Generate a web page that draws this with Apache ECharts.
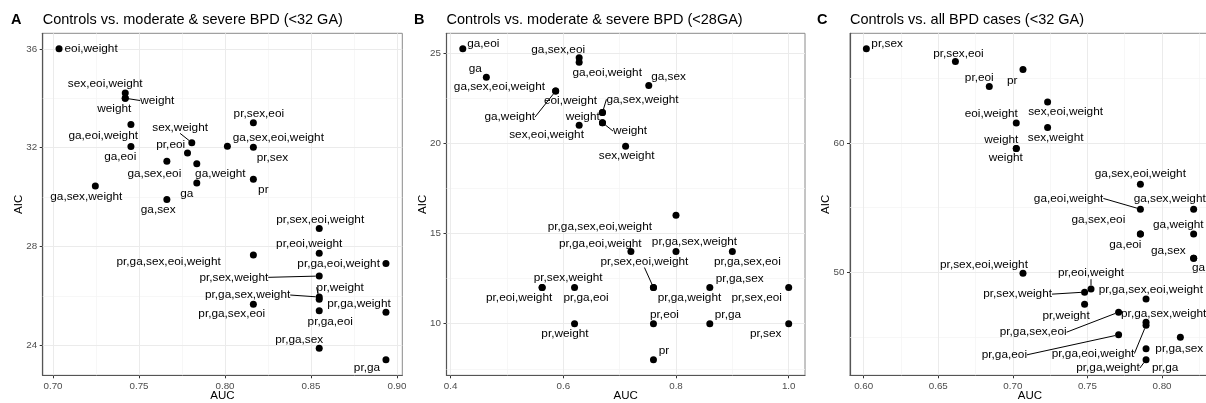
<!DOCTYPE html>
<html><head><meta charset="utf-8">
<script src="https://cdn.jsdelivr.net/npm/echarts/dist/echarts.min.js"></script>
<style>html,body{margin:0;padding:0;background:#fff}#c{width:1206px;height:403px}</style>
</head><body><div id="c"></div>
<script>
// ---------- DATA ----------
const titleA = 'Controls vs. moderate & severe BPD (<32 GA)';
const titleB = 'Controls vs. moderate & severe BPD (<28GA)';
const titleC = 'Controls vs. all BPD cases (<32 GA)';

const modelsA = ['eoi,weight','sex,eoi,weight','weight','weight','ga,eoi,weight','ga,eoi','sex,weight','pr,eoi','ga,sex,eoi','ga,weight','ga','ga,sex,weight','ga,sex','pr,sex,eoi','ga,sex,eoi,weight','pr,sex','pr','pr,sex,eoi,weight','pr,eoi,weight','pr,ga,sex,eoi,weight','pr,ga,eoi,weight','pr,sex,weight','pr,weight','pr,ga,sex,weight','pr,ga,sex,eoi','pr,ga,eoi','pr,ga,weight','pr,ga,sex','pr,ga'];
const aucA = [0.7035,0.742,0.742,0.742,0.7453,0.7453,0.7807,0.7782,0.7662,0.7836,0.7836,0.7246,0.7662,0.8165,0.8014,0.8165,0.8165,0.8548,0.8548,0.8165,0.8936,0.8548,0.8548,0.8548,0.8165,0.8548,0.8936,0.8548,0.8936];
const aicA = [36.00,34.21,34.00,34.00,32.94,32.05,32.20,31.78,31.45,31.35,30.57,30.45,29.90,33.01,32.06,32.02,30.72,28.73,27.72,27.65,27.31,26.80,25.86,25.95,25.66,25.39,25.33,23.88,23.41];

const modelsB = ['ga,eoi','ga','ga,sex,eoi','ga,eoi,weight','ga,sex,eoi,weight','ga,weight','eoi,weight','ga,sex,weight','weight','weight','sex,eoi,weight','ga,sex','sex,weight','pr,ga,sex,eoi,weight','pr,ga,eoi,weight','pr,ga,sex,weight','pr,ga,sex,eoi','pr,sex,eoi,weight','pr,ga,weight','pr,eoi,weight','pr,ga,eoi','pr,sex,weight','pr,ga,sex','pr,sex,eoi','pr,weight','pr,eoi','pr,ga','pr,sex','pr'];
const aucB = [0.4217,0.4635,0.6282,0.6282,0.5865,0.5865,0.6695,0.6695,0.6695,0.6695,0.6282,0.7517,0.7106,0.80,0.72,0.80,0.90,0.76,0.76,0.5625,0.62,0.5625,0.86,1.00,0.62,0.76,0.86,1.00,0.76];
const aicB = [25.22,23.65,24.72,24.48,22.88,22.88,21.69,21.69,21.13,21.13,20.99,23.19,19.83,16,14,14,14,12,12,12,12,12,12,12,10,10,10,10,8];

const modelsC = ['pr,sex','pr,sex,eoi','pr,eoi','pr','sex,eoi,weight','eoi,weight','sex,weight','weight','weight','ga,sex,eoi,weight','ga,eoi,weight','ga,sex,weight','ga,sex,eoi','ga,eoi','ga,weight','ga,sex','ga','pr,sex,eoi,weight','pr,eoi,weight','pr,sex,weight','pr,ga,sex,eoi,weight','pr,weight','pr,ga,sex,eoi','pr,ga,sex,weight','pr,ga,eoi,weight','pr,ga,eoi','pr,ga,sex','pr,ga','pr,ga,weight'];
const aucC = [0.6018,0.6615,0.6842,0.7068,0.7233,0.7023,0.7233,0.7023,0.7023,0.7855,0.7855,0.8212,0.7855,0.7855,0.8212,0.8212,0.8212,0.7068,0.7524,0.7481,0.7893,0.7481,0.7709,0.7893,0.7893,0.7709,0.8123,0.7893,0.7893];
const aicC = [67.28,66.30,64.37,65.69,63.16,61.54,61.19,59.57,59.57,56.81,54.88,54.88,52.96,52.96,52.96,51.08,51.08,49.92,48.71,48.46,47.92,47.53,46.91,46.14,45.90,45.16,44.98,44.08,43.23];

// tick values / labels and grid breaks
const xTicksA = [0.70,0.75,0.80,0.85,0.90], xLabelsA = ['0.70','0.75','0.80','0.85','0.90'];
const yTicksA = [24,28,32,36], yLabelsA = ['24','28','32','36'];
const xMinorA = [0.725,0.775,0.825,0.875], yMinorA = [26,30,34];
const xTicksB = [0.4,0.6,0.8,1.0], xLabelsB = ['0.4','0.6','0.8','1.0'];
const yTicksB = [10,15,20,25], yLabelsB = ['10','15','20','25'];
const xMinorB = [0.5,0.7,0.9], yMinorB = [7.5,12.5,17.5,22.5];
const xTicksC = [0.60,0.65,0.70,0.75,0.80], xLabelsC = ['0.60','0.65','0.70','0.75','0.80'];
const yTicksC = [50,60], yLabelsC = ['50','60'];
const xMinorC = [0.625,0.675,0.725,0.775,0.825], yMinorC = [45,55,65];

// ---------- LABEL PLACEMENT (pixel offsets from point: dx, dy, align, connector) ----------
const placeA = [[5.5,0,'left'],[-20,-9.4,'center'],[15,2.3,'left',1],[-11,10.6,'center'],[-27.7,11,'center'],[-10.7,10,'center'],[-11.7,-15.3,'center',1],[-16.8,-8.7,'center'],[-12.5,12.3,'center'],[-1.7,10,'left'],[-10,10.6,'center'],[-9,11,'center'],[-8.7,10.7,'center'],[5.5,-9,'center'],[5.4,-8.4,'left'],[19,10.6,'center'],[10,11,'center'],[1,-9,'center'],[-10,-9.3,'center'],[-32.6,6.7,'right'],[-6,0.7,'right'],[-51,1.3,'right',1],[21,-12,'center',1],[-29,-2,'right',1],[-21.6,10,'center'],[11,11.3,'center'],[-27,-9,'center'],[-20,-8.3,'center'],[-19,8.3,'center']];
const placeB = [[4.4,-5.6,'left'],[-11,-8.4,'center'],[-21,-8,'center'],[28,10.3,'center'],[-10.7,-4,'right'],[-20.7,26,'right',1],[-32,-12.3,'center'],[4,-13.3,'left',1],[10.6,8.4,'left',1],[-2.7,-5.6,'right'],[-32.6,10,'center'],[2.4,-9,'left'],[1,10,'center'],[-24,11,'right'],[-30.7,-7.7,'center'],[18.5,-9.3,'center'],[15,10.7,'center'],[-9,-26,'center',1],[36,10.6,'center'],[-23,10.6,'center'],[11.5,10.6,'center'],[26,-9.4,'center'],[6,-8.7,'left'],[-32,10.6,'center'],[-9.6,10.3,'center'],[11,-9,'center'],[5,-9,'left'],[-23,10.3,'center'],[5.3,-9.3,'left']];
const placeC = [[5,-5.6,'left'],[3,-7.7,'center'],[-10,-8.3,'center'],[-10.7,11,'center'],[18,10,'center'],[-25,-9.4,'center'],[8,10,'center'],[-15,-9,'center'],[-10.5,9.4,'center'],[0,-10,'center'],[-37,-10.7,'right',1],[-60,-10.7,'left'],[-42,-14,'center'],[-15,10.3,'center'],[-40.6,-9,'left'],[-25.3,-7.3,'center'],[-1.6,9.4,'left'],[-39,-9,'center'],[0,-15.7,'center',1],[-32.6,2,'right',1],[-47.4,-9.3,'left'],[-18.5,11.4,'center'],[-52,20,'right',1],[-25,-8,'left'],[-53,28.3,'center',1],[-91.6,20,'right',1],[-25,11.7,'left'],[6,19.3,'left'],[-38,8.3,'center',1]];

// ---------- BUILD ----------
const FONT = '"Liberation Sans", Arial, Helvetica, sans-serif';
const TOP = 33.3, HEIGHT = 342;
const panels = [
  {letter:'A', title:titleA, models:modelsA, auc:aucA, aic:aicA, place:placeA, xt:xTicksA, xl:xLabelsA, yt:yTicksA, yl:yLabelsA, xm:xMinorA, ym:yMinorA, left:42.7, width:359.6, letterX:11},
  {letter:'B', title:titleB, models:modelsB, auc:aucB, aic:aicB, place:placeB, xt:xTicksB, xl:xLabelsB, yt:yTicksB, yl:yLabelsB, xm:xMinorB, ym:yMinorB, left:446.5, width:358.5, letterX:414},
  {letter:'C', title:titleC, models:modelsC, auc:aucC, aic:aicC, place:placeC, xt:xTicksC, xl:xLabelsC, yt:yTicksC, yl:yLabelsC, xm:xMinorC, ym:yMinorC, left:850, width:360, letterX:817}
];
function padRange(v){const lo=Math.min(...v),hi=Math.max(...v),s=hi-lo;return [lo-0.05*s,hi+0.05*s];}
function fmt(ticks,labels){return function(v){const k=ticks.findIndex(t=>Math.abs(t-v)<1e-9);return k<0?'':labels[k];};}

const grid=[],xAxis=[],yAxis=[],series=[],graphic=[];
panels.forEach((p,i)=>{
  grid.push({left:p.left, top:TOP, width:p.width, height:HEIGHT, show:true, backgroundColor:'#fff', borderColor:'#8a8a8a', borderWidth:1, containLabel:false, outerBoundsMode:'none'});
  const xr=padRange(p.auc), yr=padRange(p.aic);
  xAxis.push({gridIndex:i, type:'value', min:xr[0], max:xr[1], name:'AUC', nameLocation:'middle', nameGap:15, nameMoveOverlap:false,
    nameTextStyle:{fontFamily:FONT,fontSize:11.5,color:'#000'},
    axisLine:{show:true,onZero:false,lineStyle:{color:'#555',width:1.2}},
    axisTick:{show:true,customValues:p.xt,length:3,lineStyle:{color:'#333'}},
    axisLabel:{show:true,customValues:p.xt,formatter:fmt(p.xt,p.xl),margin:5.5,fontFamily:FONT,fontSize:9.8,color:'#4d4d4d'},
    splitLine:{show:false},minorTick:{show:false},minorSplitLine:{show:false}});
  yAxis.push({gridIndex:i, type:'value', min:yr[0], max:yr[1], name:'AIC', nameLocation:'middle', nameGap:18, nameMoveOverlap:false,
    nameTextStyle:{fontFamily:FONT,fontSize:11.5,color:'#000'},
    axisLine:{show:true,onZero:false,lineStyle:{color:'#555',width:1.2}},
    axisTick:{show:true,customValues:p.yt,length:3,lineStyle:{color:'#333'}},
    axisLabel:{show:true,customValues:p.yt,formatter:fmt(p.yt,p.yl),margin:5.5,fontFamily:FONT,fontSize:9.8,color:'#4d4d4d'},
    splitLine:{show:false},minorTick:{show:false},minorSplitLine:{show:false}});
  const minorStyle={color:'#f3f3f3',width:0.7,type:'solid',opacity:1}, majorStyle={color:'#ebebeb',width:1,type:'solid',opacity:1};
  const ml=[];
  p.xm.forEach(v=>ml.push({xAxis:v,lineStyle:minorStyle}));
  p.ym.forEach(v=>ml.push({yAxis:v,lineStyle:minorStyle}));
  p.xt.forEach(v=>ml.push({xAxis:v,lineStyle:majorStyle}));
  p.yt.forEach(v=>ml.push({yAxis:v,lineStyle:majorStyle}));
  series.push({type:'scatter',xAxisIndex:i,yAxisIndex:i,data:[],silent:true,z:1,animation:false,
    markLine:{silent:true,symbol:['none','none'],z:1,precision:6,animation:false,label:{show:false},emphasis:{disabled:true},data:ml}});
  const place=p.place;
  series.push({type:'scatter',xAxisIndex:i,yAxisIndex:i,z:3,silent:true,animation:false,symbol:'circle',symbolSize:7,
    itemStyle:{color:'#000',opacity:1},
    label:{show:true,formatter:'{b}',position:'right',fontFamily:FONT,fontSize:11.8,color:'#000',opacity:1,textBorderWidth:0},
    labelLine:{show:false,lineStyle:{color:'#000',width:1,opacity:1}},
    labelLayout:function(prm){const pl=place[prm.dataIndex];const r=prm.rect;return {x:r.x+r.width/2+pl[0],y:r.y+r.height/2+pl[1],align:pl[2],verticalAlign:'middle'};},
    data:p.models.map((m,k)=>({name:m,value:[p.auc[k],p.aic[k]],labelLine:{show:!!place[k][3],lineStyle:{color:'#000',width:1,opacity:1}}}))});
  graphic.push({type:'text',x:p.letterX,y:20,silent:true,style:{text:p.letter,font:'bold 14.5px '+FONT,fill:'#000',verticalAlign:'middle',align:'left'}});
  graphic.push({type:'text',x:p.left,y:20,silent:true,style:{text:p.title,font:'14.5px '+FONT,fill:'#000',verticalAlign:'middle',align:'left'}});
});

const chart=echarts.init(document.getElementById('c'),null,{renderer:'canvas'});
chart.setOption({animation:false,backgroundColor:'#fff',textStyle:{fontFamily:FONT},grid,xAxis,yAxis,series,graphic});
</script></body></html>
